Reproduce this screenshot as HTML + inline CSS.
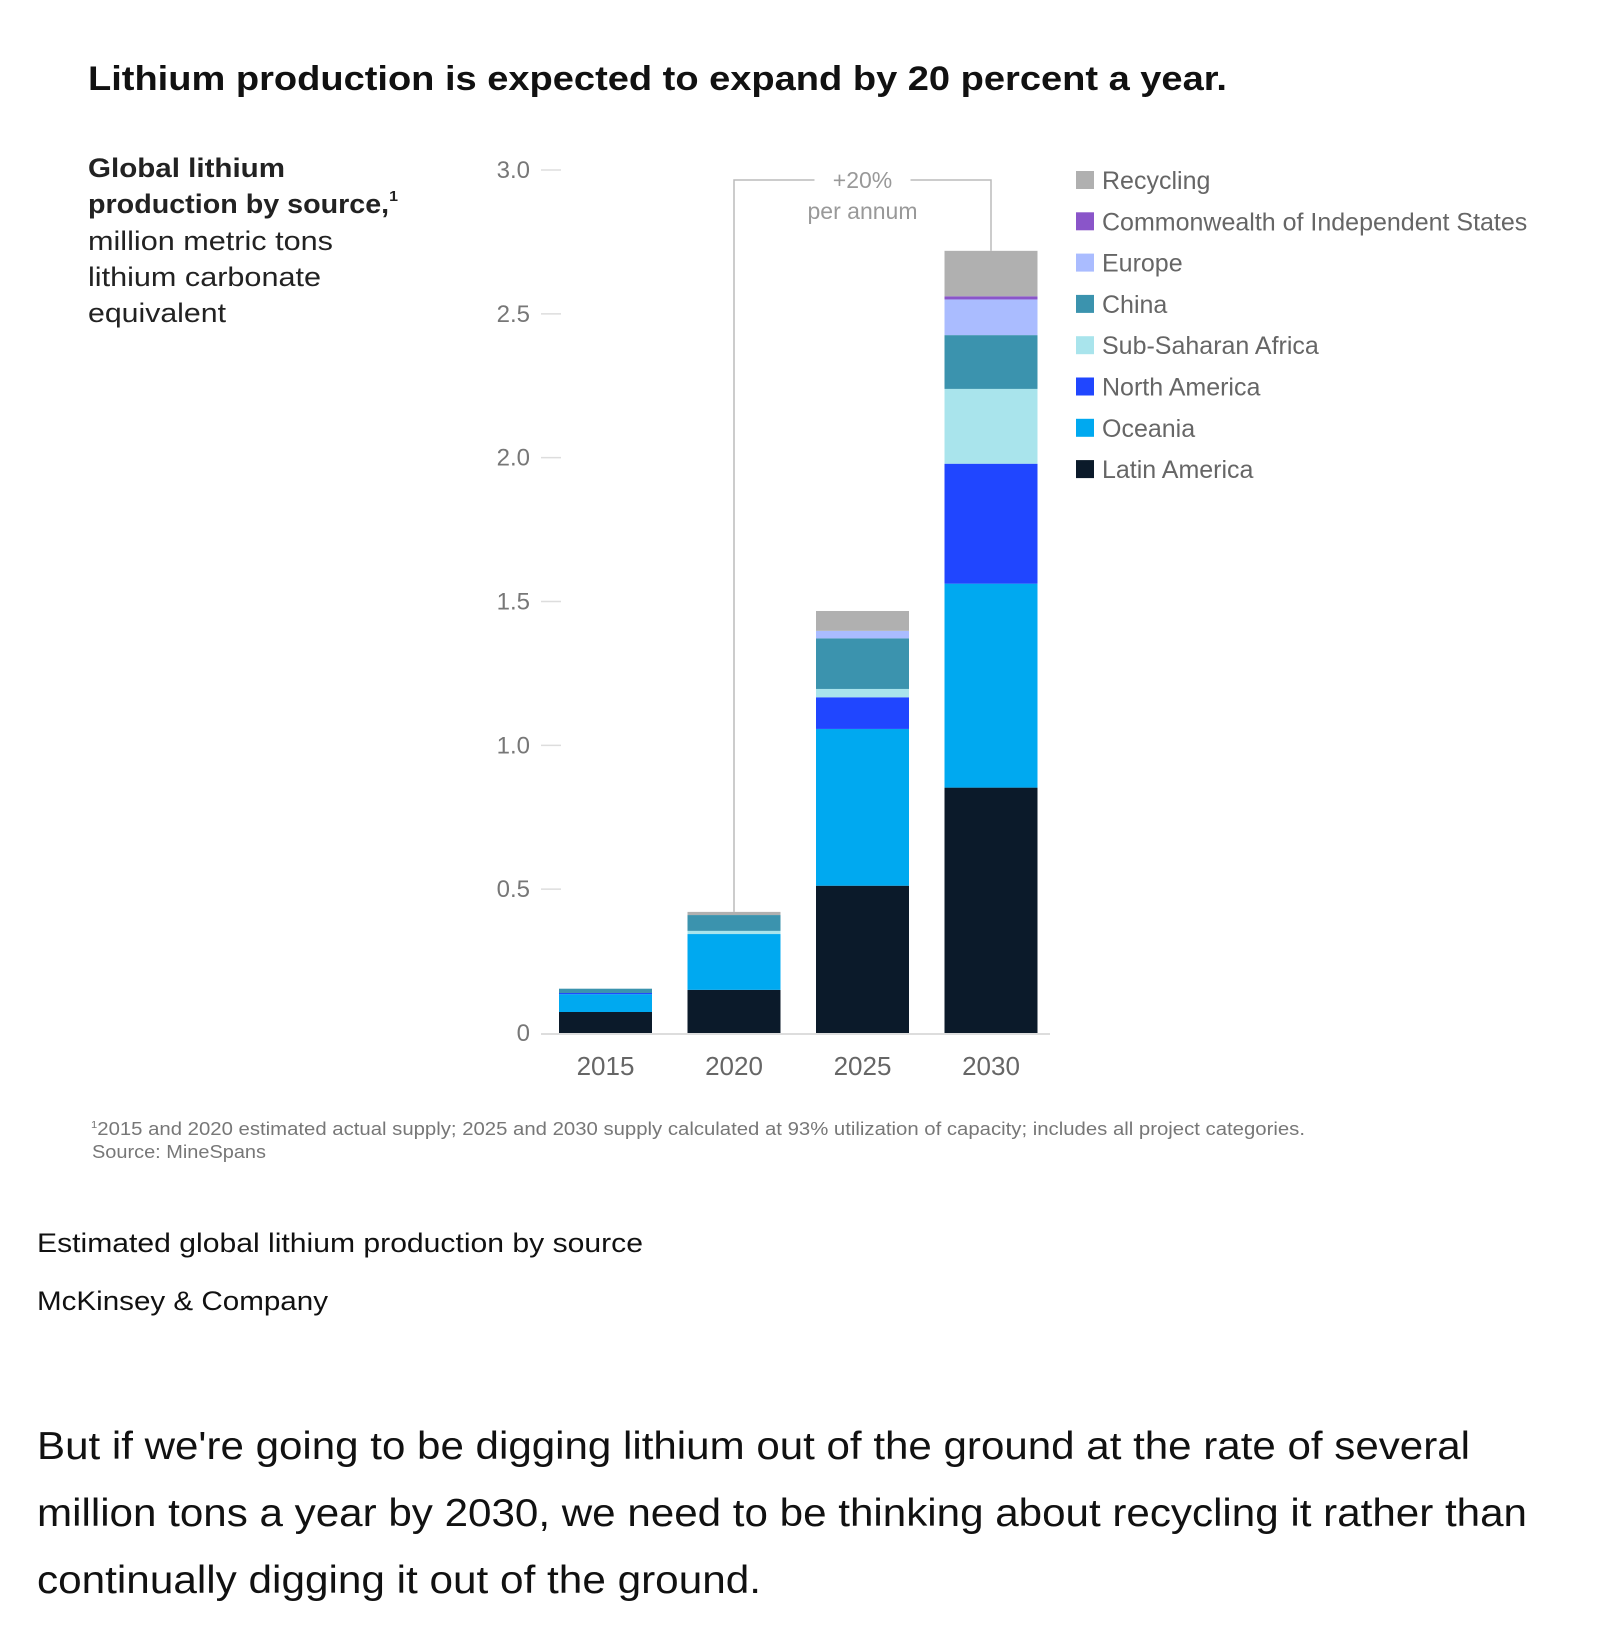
<!DOCTYPE html>
<html><head><meta charset="utf-8"><style>
html,body{margin:0;padding:0;background:#fff;}
svg{display:block;font-family:"Liberation Sans",sans-serif;}
</style></head><body>
<svg id="chart" width="1600" height="1652" viewBox="0 0 1600 1652">
<text x="88" y="90" font-size="34" font-weight="bold" fill="#111" textLength="1139" lengthAdjust="spacingAndGlyphs">Lithium production is expected to expand by 20 percent a year.</text>
<g font-size="27" fill="#222">
<text x="88" y="177" font-weight="bold" textLength="197" lengthAdjust="spacingAndGlyphs">Global lithium</text>
<text x="88" y="213" font-weight="bold" textLength="310" lengthAdjust="spacingAndGlyphs">production by source,<tspan font-size="15" dy="-12">1</tspan></text>
<text x="88" y="250" textLength="245" lengthAdjust="spacingAndGlyphs">million metric tons</text>
<text x="88" y="286" textLength="233" lengthAdjust="spacingAndGlyphs">lithium carbonate</text>
<text x="88" y="322" textLength="138" lengthAdjust="spacingAndGlyphs">equivalent</text>
</g>
<g id="axis"></g>
<g id="bars"></g>
<g id="legend"></g>
<g id="bracket"></g>
<g font-size="18" fill="#777">
<text x="91" y="1135" textLength="1214" lengthAdjust="spacingAndGlyphs"><tspan font-size="10" dy="-7">1</tspan><tspan dy="7">2015 and 2020 estimated actual supply; 2025 and 2030 supply calculated at 93% utilization of capacity; includes all project categories.</tspan></text>
<text x="92" y="1158" textLength="174" lengthAdjust="spacingAndGlyphs">Source: MineSpans</text>
</g>
<text x="37" y="1252" font-size="27" fill="#111" textLength="606" lengthAdjust="spacingAndGlyphs">Estimated global lithium production by source</text>
<text x="37" y="1310" font-size="27" fill="#111" textLength="291" lengthAdjust="spacingAndGlyphs">McKinsey &amp; Company</text>
<g font-size="39" fill="#111">
<text x="37" y="1459" textLength="1433" lengthAdjust="spacingAndGlyphs">But if we're going to be digging lithium out of the ground at the rate of several</text>
<text x="37" y="1526" textLength="1490" lengthAdjust="spacingAndGlyphs">million tons a year by 2030, we need to be thinking about recycling it rather than</text>
<text x="37" y="1593" textLength="724" lengthAdjust="spacingAndGlyphs">continually digging it out of the ground.</text>
</g>
</svg>
<script>
const categories = ["2015","2020","2025","2030"];
const seriesNames = ["Latin America","Oceania","North America","Sub-Saharan Africa","China","Europe","Commonwealth of Independent States","Recycling"];
const latinAmerica = [0.073, 0.15, 0.512, 0.853];
const oceania = [0.062, 0.194, 0.545, 0.709];
const northAmerica = [0.004, 0, 0.11, 0.417];
const subSaharanAfrica = [0, 0.011, 0.029, 0.26];
const china = [0.015, 0.055, 0.176, 0.187];
const europe = [0, 0, 0.026, 0.124];
const cis = [0, 0, 0, 0.011];
const recycling = [0, 0.011, 0.069, 0.158];
const yTicks = [0, 0.5, 1.0, 1.5, 2.0, 2.5, 3.0];
const yTickLabels = ["0","0.5","1.0","1.5","2.0","2.5","3.0"];
const annotationLabels = ["+20%","per annum"];

const series = [latinAmerica, oceania, northAmerica, subSaharanAfrica, china, europe, cis, recycling];
const colors = ["#0b1a2a","#00a9f0","#2046ff","#a9e4ec","#3b93ae","#aabcff","#8a55c9","#b0b0b0"];
const slugs = ["latin-america","oceania","north-america","sub-saharan-africa","china","europe","cis","recycling"];
const NS = "http://www.w3.org/2000/svg";
const y0 = 1033, pxPerUnit = (1033-170)/3;
const yScale = v => y0 - v*pxPerUnit;
const barW = 93, firstX = 559, pitch = 128.5;
const xScale = i => firstX + i*pitch;
function mk(tag, attrs, parent){const e=document.createElementNS(NS,tag);for(const k in attrs)e.setAttribute(k,attrs[k]);parent.appendChild(e);return e;}

const axis = document.getElementById('axis');
yTicks.forEach((t,i)=>{
  const y = yScale(t);
  const tx = mk('text',{x:530,y:y+8,'font-size':24,fill:'#777','text-anchor':'end'},axis);
  tx.textContent = yTickLabels[i];
  
  
  if(i>0){
    const ln = mk('line',{x1:541,x2:561,y1:y,y2:y,stroke:'#ddd','stroke-width':1.5},axis);
    
    
  }
});
const base = mk('line',{x1:541,x2:1050,y1:y0+1,y2:y0+1,stroke:'#ddd','stroke-width':2},axis);



const bars = document.getElementById('bars');
const totals = [];
categories.forEach((c,i)=>{
  let cum = 0;
  series.forEach((s,j)=>{
    const v = s[i];
    if(v>0){
      const r = mk('rect',{x:xScale(i),y:yScale(cum+v),width:barW,height:v*pxPerUnit,fill:colors[j]},bars);
      
      
    }
    cum += v;
  });
  totals.push(cum);
  const lb = mk('text',{x:xScale(i)+barW/2,y:1075,'font-size':26,fill:'#666','text-anchor':'middle'},bars);
  lb.textContent = c;
  
  
});

const br = document.getElementById('bracket');
const lx = xScale(1)+barW/2, rx = xScale(3)+barW/2, topY = 180, mid = (lx+rx)/2;
const p = mk('path',{d:`M${lx} ${yScale(totals[1])} V${topY} H${mid-48} M${mid+48} ${topY} H${rx} V${yScale(totals[3])}`,fill:'none',stroke:'#bbb','stroke-width':1.5},br);


annotationLabels.forEach((t,k)=>{
  const e = mk('text',{x:mid,y:188+k*31,'font-size':23,fill:'#999','text-anchor':'middle'},br);
  e.textContent = t;
  
  
});

const lg = document.getElementById('legend');
for(let k=0;k<8;k++){
  const j = 7-k;
  const y = 180 + k*41.3;
  const g = mk('g',{},lg);
  
  
  mk('rect',{x:1076,y:y-9,width:18,height:18,fill:colors[j]},g);
  const t = mk('text',{x:1102,y:y+9,'font-size':25,fill:'#666'},g);
  t.textContent = seriesNames[j];
}
</script>
</body></html>
